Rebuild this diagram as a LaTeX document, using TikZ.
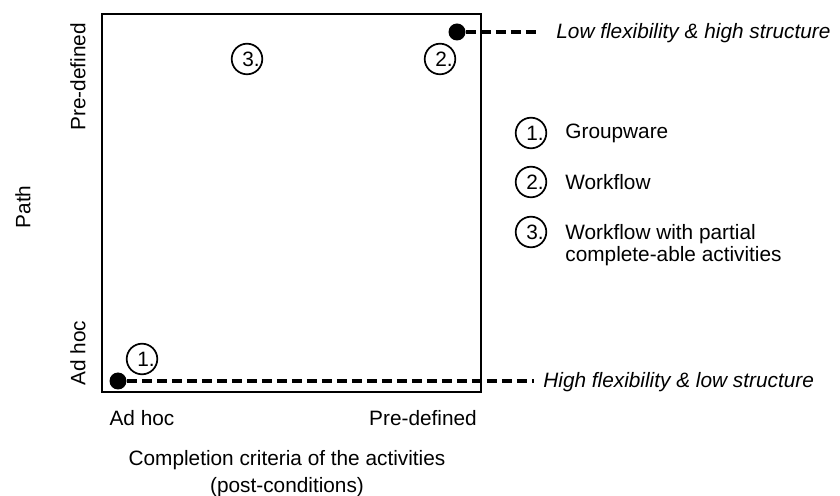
\documentclass[tikz,border=0pt]{standalone}
\usepackage{fontspec}
\setmainfont{Liberation Sans}
\begin{document}
\begin{tikzpicture}[x=0.5pt,y=-0.5pt,
  lbl/.style={inner sep=0pt,font=\fontsize{10.4}{12.5}\selectfont},
  note/.style={lbl,font=\fontsize{10.4}{12.5}\selectfont\itshape,anchor=west},
  num/.style={circle,draw,line width=0.85pt,minimum size=15.3pt,inner sep=0pt},
  dot/.style={circle,fill=black,minimum size=8.5pt,inner sep=0pt},
  guide/.style={line width=1.7pt,dash pattern=on 5pt off 2.5pt}]
\useasboundingbox (0,0) rectangle (840,496);

% frame of the chart
\draw[line width=1pt] (102,14) rectangle (481,392);

% extreme points and their dashed guides
\node[dot] (hi) at (457,32) {};
\node[dot] (lo) at (118,381) {};
\coordinate (hiend) at (536,32);
\coordinate (loend) at (534,381);
\draw[guide] (hi) -- (hiend);
\draw[guide] (lo) -- (loend);
\node[note] (hitxt) at (556,33) {Low flexibility \& high structure};
\node[note] (lotxt) at (543,382) {High flexibility \& low structure};

% numbered markers inside the chart
\node[num] (m3) at (247,59) {};
\node[lbl] at ([xshift=2]m3.center) {3.};
\node[num] (m2) at (440,59) {};
\node[lbl] at ([xshift=2]m2.center) {2.};
\node[num] (m1) at (142,359) {};
\node[lbl] at ([xshift=2]m1.center) {1.};

% legend
\node[num] (k1) at (531,133) {};
\node[lbl] at ([xshift=2]k1.center) {1.};
\node[lbl,anchor=west] (k1t) at (565,133) {Groupware};
\node[num] (k2) at (531,182) {};
\node[lbl] at ([xshift=2]k2.center) {2.};
\node[lbl,anchor=west] (k2t) at (565,182) {Workflow};
\node[num] (k3) at (531,232) {};
\node[lbl] at ([xshift=2]k3.center) {3.};
\node[lbl,anchor=north west,align=left,font=\fontsize{10.4}{10.8}\selectfont] (k3t) at (565,224)
  {Workflow with partial\\complete-able activities};

% vertical axis labels
\node[lbl,rotate=90] (ypre) at (78,77) {Pre-defined};
\node[lbl,rotate=90] (yname) at (23,207) {Path};
\node[lbl,rotate=90] (yadhoc) at (78,353) {Ad hoc};

% horizontal axis labels
\node[lbl] (xadhoc) at (142,418) {Ad hoc};
\node[lbl] (xpre) at (423,418) {Pre-defined};
\node[lbl,align=center,font=\fontsize{10.4}{13.5}\selectfont] (xname) at (287,474)
  {Completion criteria of the activities\\(post-conditions)};
\end{tikzpicture}
\end{document}
